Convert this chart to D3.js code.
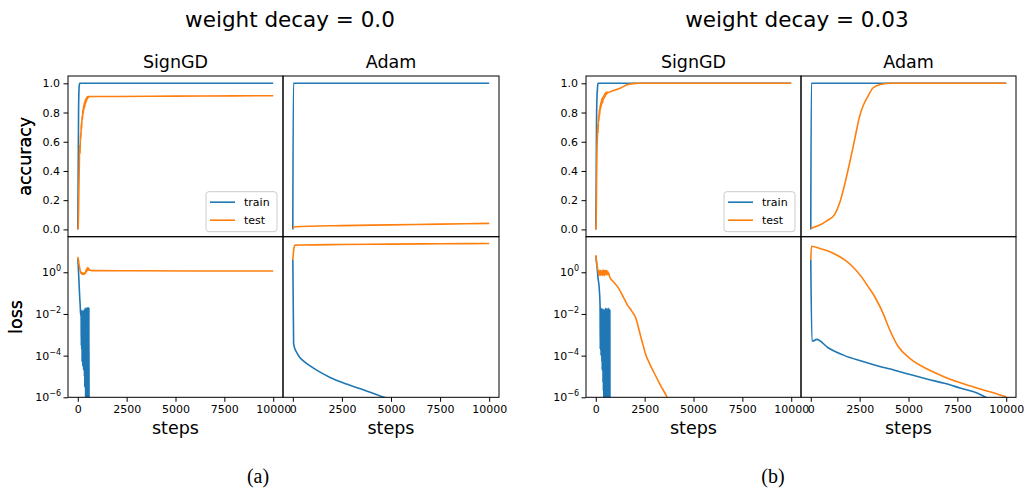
<!DOCTYPE html>
<html><head><meta charset="utf-8">
<script src="https://cdn.jsdelivr.net/npm/d3@7"></script>
<style>body{margin:0;background:#fff}svg{display:block}</style>
</head><body>
<svg id="chart" width="1028" height="493"></svg>
<script>
// ---------------- DATA ----------------
const optimizers = ["SignGD", "Adam"];
const seriesNames = ["train", "test"];
const figTitles = ["weight decay = 0.0", "weight decay = 0.03"];
const figLabels = ["(a)", "(b)"];
const xTicks = [0, 2500, 5000, 7500, 10000];
const accTicks = [0.0, 0.2, 0.4, 0.6, 0.8, 1.0];
const lossTicks = [1e0, 1e-2, 1e-4, 1e-6];
const lossTickExp = ["0", "−2", "−4", "−6"];

// (a) weight decay 0.0 — SignGD
const a_sign_acc_train_steps = [0, 20, 40, 60, 80, 100, 10000];
const a_sign_acc_train = [0.0, 0.35, 0.8, 0.95, 0.99, 1.0, 1.0];
const a_sign_acc_test_steps = [0, 20, 40, 60, 80, 100, 120, 140, 160, 180, 200, 220, 240, 260, 280, 300, 320, 340, 360, 380, 400, 420, 440, 460, 480, 500, 520, 540, 560, 580, 600, 800, 2000, 5000, 8000, 10000];
const a_sign_acc_test = [0.0, 0.02, 0.12, 0.3, 0.45, 0.58, 0.52, 0.66, 0.62, 0.73, 0.69, 0.78, 0.75, 0.82, 0.79, 0.85, 0.82, 0.87, 0.84, 0.885, 0.86, 0.895, 0.875, 0.905, 0.89, 0.91, 0.9, 0.91, 0.905, 0.91, 0.91, 0.91, 0.91, 0.912, 0.914, 0.915];
const a_sign_loss_train_steps = [0, 20, 40, 60, 80, 100, 120, 140, 160, 170, 180, 190, 200, 210, 220, 230, 240, 250, 260, 270, 280, 290, 300, 310, 320, 330, 340, 350, 360, 370, 380, 390, 400, 410, 420, 430, 440, 450, 460, 470, 480, 490, 500, 510, 520, 530, 540, 550, 560, 570, 580, 590];
const a_sign_loss_train = [4.5, 2.5, 1.0, 0.4, 0.15, 0.06, 0.03, 0.012, 0.008, 0.01, 3e-4, 1.5e-2, 2e-4, 1e-2, 5e-5, 1.2e-2, 1e-4, 8e-3, 3e-5, 1.5e-2, 1e-4, 1e-2, 2e-5, 1.2e-2, 5e-5, 1.5e-2, 1e-5, 1.8e-2, 3e-6, 1.5e-2, 5e-6, 2e-2, 1e-6, 1.5e-2, 5e-7, 2e-2, 1e-7, 1.8e-2, 1e-8, 2e-2, 1e-9, 2e-2, 1e-9, 2e-2, 1e-9, 2e-2, 1e-9, 2e-2, 1e-9, 2e-2, 1e-9, 1e-9];
const a_sign_loss_test_steps = [0, 30, 60, 100, 130, 160, 190, 220, 250, 280, 310, 340, 370, 400, 430, 460, 490, 520, 550, 580, 610, 700, 1000, 3000, 6000, 10000];
const a_sign_loss_test = [5.5, 4.0, 2.5, 1.6, 1.1, 0.9, 1.0, 0.8, 0.95, 0.78, 0.9, 0.82, 1.0, 0.9, 1.3, 1.1, 1.7, 1.3, 1.6, 1.25, 1.3, 1.2, 1.2, 1.18, 1.16, 1.15];

// (a) weight decay 0.0 — Adam
const a_adam_acc_train_steps = [0, 30, 10000];
const a_adam_acc_train = [0.0, 1.0, 1.0];
const a_adam_acc_test_steps = [0, 100, 2500, 5000, 7500, 10000];
const a_adam_acc_test = [0.005, 0.018, 0.026, 0.031, 0.036, 0.041];
const a_adam_loss_train_steps = [0, 40, 60, 100, 200, 370, 600, 880, 1300, 1900, 2745, 3590, 4520, 5000];
const a_adam_loss_train = [3.9, 4e-4, 3e-4, 2.2e-4, 1.4e-4, 8e-5, 5e-5, 3.2e-5, 1.8e-5, 9e-6, 4.3e-6, 2.3e-6, 1.1e-6, 8e-7];
const a_adam_loss_test_steps = [0, 60, 117, 500, 2500, 5000, 7500, 10000];
const a_adam_loss_test = [3.9, 15, 20, 20.5, 21.5, 22.5, 23.5, 24];

// (b) weight decay 0.03 — SignGD
const b_sign_acc_train_steps = [0, 20, 40, 60, 80, 100, 120, 10000];
const b_sign_acc_train = [0.0, 0.3, 0.75, 0.9, 0.95, 0.99, 1.0, 1.0];
const b_sign_acc_test_steps = [0, 20, 40, 60, 80, 100, 120, 140, 160, 180, 200, 220, 240, 260, 280, 300, 320, 340, 360, 380, 400, 420, 440, 460, 480, 500, 520, 540, 560, 580, 600, 700, 800, 1000, 1300, 1600, 1900, 2200, 10000];
const b_sign_acc_test = [0.0, 0.05, 0.3, 0.55, 0.62, 0.72, 0.66, 0.78, 0.74, 0.82, 0.78, 0.85, 0.82, 0.87, 0.84, 0.89, 0.86, 0.9, 0.87, 0.91, 0.89, 0.92, 0.9, 0.93, 0.91, 0.935, 0.92, 0.94, 0.925, 0.94, 0.935, 0.94, 0.945, 0.955, 0.97, 0.99, 0.998, 1.0, 1.0];
const b_sign_loss_train_steps = [0, 60, 120, 170, 220, 230, 240, 250, 260, 270, 280, 290, 300, 310, 320, 330, 340, 350, 360, 370, 380, 390, 400, 410, 420, 430, 440, 450, 460, 470, 480, 490, 500, 510, 520, 530, 540, 550, 560, 570, 580, 590, 600, 610, 620, 630, 640, 650, 660, 670, 680, 690, 700, 710, 720, 730];
const b_sign_loss_train = [6.0, 2.0, 0.5, 0.2, 0.025, 2e-4, 1.5e-2, 4e-4, 2e-2, 1e-4, 1.2e-2, 3e-4, 1.8e-2, 5e-5, 1.5e-2, 2e-5, 1.2e-2, 8e-5, 1.8e-2, 5e-6, 1.4e-2, 2e-6, 1.7e-2, 5e-7, 1.5e-2, 1e-7, 1.2e-2, 1e-9, 1.5e-2, 2e-6, 1.8e-2, 1e-9, 1.5e-2, 1e-9, 2e-2, 1e-9, 1.6e-2, 1e-9, 1.8e-2, 1e-9, 1.5e-2, 1e-9, 1.8e-2, 1e-9, 1.6e-2, 1e-9, 2e-2, 1e-9, 1.5e-2, 1e-9, 1.8e-2, 1e-9, 1.6e-2, 1e-9, 1.5e-2, 1e-9];
const b_sign_loss_test_steps = [0, 30, 60, 100, 130, 160, 190, 220, 250, 280, 310, 340, 370, 400, 430, 460, 490, 520, 550, 580, 610, 640, 670, 700, 900, 1105, 1360, 1615, 1830, 2040, 2170, 2295, 2420, 2550, 2760, 2976, 3300, 3605, 3700];
const b_sign_loss_test = [6.6, 4.0, 2.2, 1.4, 1.1, 0.75, 1.2, 0.7, 1.25, 0.75, 1.15, 0.7, 1.3, 0.75, 1.2, 0.7, 1.25, 0.8, 1.2, 0.75, 1.1, 0.8, 0.9, 0.63, 0.35, 0.21, 0.079, 0.0275, 0.0141, 6.5e-3, 2.5e-3, 8.5e-4, 3.2e-4, 1.15e-4, 4.0e-5, 1.55e-5, 4.0e-6, 1.2e-6, 7.9e-7];

// (b) weight decay 0.03 — Adam
const b_adam_acc_train_steps = [0, 30, 10000];
const b_adam_acc_train = [0.0, 1.0, 1.0];
const b_adam_acc_test_steps = [0, 459, 799, 1224, 1480, 1735, 1990, 2245, 2500, 2670, 2925, 3180, 3605, 4115, 10000];
const b_adam_acc_test = [0.007, 0.03, 0.057, 0.103, 0.182, 0.308, 0.456, 0.615, 0.775, 0.843, 0.911, 0.968, 0.993, 1.0, 1.0];
const b_adam_loss_train_steps = [0, 60, 100, 300, 885, 1735, 2585, 3435, 4286, 5136, 5986, 6837, 7687, 8537, 8963, 9500];
const b_adam_loss_train = [3.9, 5.0e-4, 5.0e-4, 6.0e-4, 2.4e-4, 1.0e-4, 5.5e-5, 3.2e-5, 2.0e-5, 1.2e-5, 7.4e-6, 4.7e-6, 2.7e-6, 1.55e-6, 1.0e-6, 5.6e-7];
const b_adam_loss_test_steps = [0, 34, 500, 885, 1300, 1735, 2160, 2585, 2925, 3265, 3690, 4031, 4456, 5136, 5986, 6837, 7687, 8537, 9388, 9950, 10000];
const b_adam_loss_test = [3.9, 17.8, 13.5, 10.5, 7.0, 3.9, 1.8, 0.62, 0.21, 0.069, 0.0112, 1.8e-3, 2.9e-4, 6.6e-5, 2.2e-5, 9.5e-6, 4.8e-6, 2.7e-6, 1.6e-6, 1.1e-6, 1.07e-6];

// ---------------- DRAWING ----------------
const FONT = "DejaVu Sans, sans-serif";
const colors = {train: "#1f77b4", test: "#ff7f0e"};
const svg = d3.select("#chart");
const yTop = 76, yMid = 236.7, yBot = 397.3;

const zip = (s, v) => s.map((d, i) => ({x: d, y: v[i]}));

const figs = [
  {left: 68, mid: 283, right: 499, tx: 290, lx: 258,
   panels: {
     SignGD: {acc: {train: zip(a_sign_acc_train_steps, a_sign_acc_train), test: zip(a_sign_acc_test_steps, a_sign_acc_test)},
              loss: {train: zip(a_sign_loss_train_steps, a_sign_loss_train), test: zip(a_sign_loss_test_steps, a_sign_loss_test)}},
     Adam: {acc: {train: zip(a_adam_acc_train_steps, a_adam_acc_train), test: zip(a_adam_acc_test_steps, a_adam_acc_test)},
            loss: {train: zip(a_adam_loss_train_steps, a_adam_loss_train), test: zip(a_adam_loss_test_steps, a_adam_loss_test)}}
   }},
  {left: 586, mid: 801, right: 1016, tx: 797, lx: 773,
   panels: {
     SignGD: {acc: {train: zip(b_sign_acc_train_steps, b_sign_acc_train), test: zip(b_sign_acc_test_steps, b_sign_acc_test)},
              loss: {train: zip(b_sign_loss_train_steps, b_sign_loss_train), test: zip(b_sign_loss_test_steps, b_sign_loss_test)}},
     Adam: {acc: {train: zip(b_adam_acc_train_steps, b_adam_acc_train), test: zip(b_adam_acc_test_steps, b_adam_acc_test)},
            loss: {train: zip(b_adam_loss_train_steps, b_adam_loss_train), test: zip(b_adam_loss_test_steps, b_adam_loss_test)}}
   }}
];

let clipId = 0;
figs.forEach((f, fi) => {
  svg.append("text").attr("x", f.tx).attr("y", 27).attr("text-anchor", "middle")
    .attr("font-family", FONT).attr("font-size", 21.5).attr("fill", "#000").text(figTitles[fi]);
  svg.append("text").attr("x", f.lx).attr("y", 483).attr("text-anchor", "middle")
    .attr("font-family", "Liberation Serif, Times New Roman, serif").attr("font-size", 20).attr("fill", "#000").text(figLabels[fi]);

  optimizers.forEach((opt, oi) => {
    const x0 = oi === 0 ? f.left : f.mid, x1 = oi === 0 ? f.mid : f.right;
    const x = d3.scaleLinear().domain([-500, 10500]).range([x0, x1]);
    const yAcc = d3.scaleLinear().domain([-0.05, 1.05]).range([yMid, yTop]);
    const yLoss = d3.scaleLog().domain([1e-6, 51]).range([yBot, yMid]);

    svg.append("text").attr("x", (x0 + x1) / 2).attr("y", 68).attr("text-anchor", "middle")
      .attr("font-family", FONT).attr("font-size", 17.5).attr("fill", "#000").text(opt);

    [["acc", yAcc, yTop, yMid], ["loss", yLoss, yMid, yBot]].forEach(([kind, y, t, b]) => {
      const id = "clip" + (clipId++);
      svg.append("clipPath").attr("id", id).append("rect")
        .attr("x", x0).attr("y", t).attr("width", x1 - x0).attr("height", b - t);
      const g = svg.append("g").attr("clip-path", `url(#${id})`);
      const line = d3.line().x(d => x(d.x)).y(d => y(d.y)).curve(d3.curveMonotoneX);
      seriesNames.forEach(s => {
        g.append("path").datum(f.panels[opt][kind][s])
          .attr("fill", "none").attr("stroke", colors[s]).attr("stroke-width", 1.6)
          .attr("stroke-linejoin", "round").attr("d", line);
      });
      svg.append("rect").attr("x", x0).attr("y", t).attr("width", x1 - x0).attr("height", b - t)
        .attr("fill", "none").attr("stroke", "#000").attr("stroke-width", 1);

      if (oi === 0) {
        if (kind === "acc") {
          const ax = svg.append("g").attr("transform", `translate(${x0},0)`)
            .call(d3.axisLeft(y).tickValues(accTicks).tickFormat(d3.format(".1f")).tickSize(4.5).tickPadding(3.5));
          ax.select(".domain").remove();
          ax.selectAll("text").attr("font-family", FONT).attr("font-size", 11).attr("fill", "#000");
          ax.selectAll("line").attr("stroke", "#000");
        } else {
          const ax = svg.append("g").attr("transform", `translate(${x0},0)`)
            .call(d3.axisLeft(y).tickValues(lossTicks).tickFormat("").tickSize(4.5));
          ax.select(".domain").remove();
          ax.selectAll("line").attr("stroke", "#000");
          lossTicks.forEach((v, i) => {
            const tx = svg.append("text").attr("x", x0 - 7).attr("y", y(v) + 4)
              .attr("text-anchor", "end").attr("font-family", FONT).attr("font-size", 11).attr("fill", "#000");
            tx.append("tspan").text("10");
            tx.append("tspan").attr("dy", -5).attr("font-size", 8).text(lossTickExp[i]);
          });
        }
      }
      if (kind === "loss") {
        const ax = svg.append("g").attr("transform", `translate(0,${b})`)
          .call(d3.axisBottom(x).tickValues(xTicks).tickFormat(d3.format("d")).tickSize(4.5).tickPadding(3.5));
        ax.select(".domain").remove();
        ax.selectAll("text").attr("font-family", FONT).attr("font-size", 11).attr("fill", "#000");
        ax.selectAll("line").attr("stroke", "#000");
        svg.append("text").attr("x", (x0 + x1) / 2).attr("y", 434).attr("text-anchor", "middle")
          .attr("font-family", FONT).attr("font-size", 17.5).attr("fill", "#000").text("steps");
      }
    });

    if (oi === 0) {
      svg.append("text").attr("transform", `translate(31,${(yTop + yMid) / 2}) rotate(-90)`)
        .attr("text-anchor", "middle").attr("font-family", FONT).attr("font-size", 17.5).attr("fill", "#000").text("accuracy");
      svg.append("text").attr("transform", `translate(21.5,${(yMid + yBot) / 2}) rotate(-90)`)
        .attr("text-anchor", "middle").attr("font-family", FONT).attr("font-size", 17.5).attr("fill", "#000").text("loss");

      const bw = 71, bh = 40;
      const bx = x1 - 6 - bw, by = yMid - 5 - bh;
      const lg = svg.append("g");
      lg.append("rect").attr("x", bx).attr("y", by).attr("width", bw).attr("height", bh).attr("rx", 3)
        .attr("fill", "#fff").attr("fill-opacity", 0.8).attr("stroke", "#cccccc").attr("stroke-width", 1);
      seriesNames.forEach((s, i) => {
        const ly = by + 10.5 + i * 18;
        lg.append("line").attr("x1", bx + 4).attr("x2", bx + 29).attr("y1", ly).attr("y2", ly)
          .attr("stroke", colors[s]).attr("stroke-width", 1.6);
        lg.append("text").attr("x", bx + 38).attr("y", ly + 4).attr("font-family", FONT).attr("font-size", 11)
          .attr("fill", "#000").text(s);
      });
    }
  });
});
</script>
</body></html>
